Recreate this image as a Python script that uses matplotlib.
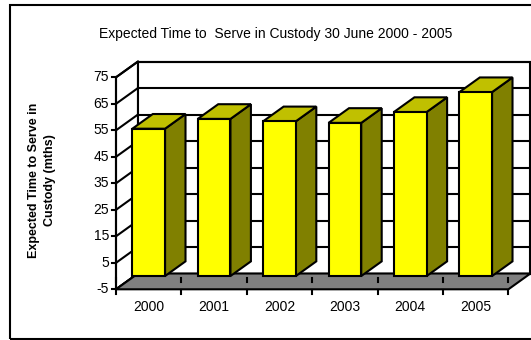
import matplotlib
matplotlib.use("Agg")
import matplotlib.pyplot as plt
from matplotlib.patches import Polygon, Rectangle
from matplotlib.lines import Line2D

plt.rcParams['font.family'] = ['Liberation Sans', 'DejaVu Sans']

# Data
years = ["2000", "2001", "2002", "2003", "2004", "2005"]
custody_months = [55.6, 59.3, 58.4, 57.8, 61.9, 69.4]
y_ticks = [-5, 5, 15, 25, 35, 45, 55, 65, 75]

title = "Expected Time to  Serve in Custody 30 June 2000 - 2005"
y_label = "Expected Time to Serve in\nCustody (mths)"

# Layout (pixels) of the front plane of the 3-D plot box
W, H = 531, 340
X0_PX = 116.0        # left edge of front plane
CAT_PX = 65.4        # width of one category
VMIN, VMAX = -5, 75
VMIN_PY = 289.3      # pixel row of VMIN on front plane
UNIT_PX = 2.65       # pixels per value unit
DEPTH_PX = (22.0, 15.8)  # oblique depth offset (right, up)

DX = DEPTH_PX[0] / CAT_PX
DY = DEPTH_PX[1] / UNIT_PX
BAR_DEPTH = 0.93
BAR_W = 0.5

EDGE = "black"
LW = 1.5
FRONT_C = "#ffff00"
TOP_C = "#c0c000"
SIDE_C = "#808000"
FLOOR_C = "#808080"

fig = plt.figure(figsize=(W / 100, H / 100), dpi=100)
ax = fig.add_axes([0, 0, 1, 1])
ax.set_xlim(-X0_PX / CAT_PX, (W - X0_PX) / CAT_PX)
ax.set_ylim(VMIN - (H - VMIN_PY) / UNIT_PX, VMIN + VMIN_PY / UNIT_PX)
ax.axis("off")

n = len(years)

# Outer chart border
border = Rectangle((10 / W, 1 - 339 / H), 1.2, (339 - 5) / H, transform=ax.transAxes,
                   fill=False, edgecolor=EDGE, linewidth=LW, zorder=0)
ax.add_patch(border)

# Walls
left_wall = Polygon([(0, VMIN), (0, VMAX), (DX, VMAX + DY), (DX, VMIN + DY)],
                    closed=True, facecolor="white", edgecolor=EDGE, linewidth=LW, zorder=1)
back_wall = Polygon([(DX, VMIN + DY), (DX, VMAX + DY), (n + DX, VMAX + DY), (n + DX, VMIN + DY)],
                    closed=True, facecolor="white", edgecolor=EDGE, linewidth=LW, zorder=1)
ax.add_patch(left_wall)
ax.add_patch(back_wall)

# Gridlines on both walls
for v in y_ticks:
    ax.add_line(Line2D([0, DX], [v, v + DY], color=EDGE, linewidth=LW, zorder=2))
    ax.add_line(Line2D([DX, n + DX], [v + DY, v + DY], color=EDGE, linewidth=LW, zorder=2))

# Floor
floor = Polygon([(0, VMIN), (n, VMIN), (n + DX, VMIN + DY), (DX, VMIN + DY)],
                closed=True, facecolor=FLOOR_C, edgecolor=EDGE, linewidth=LW, zorder=3)
ax.add_patch(floor)

# Front value axis line and ticks
ax.add_line(Line2D([0, 0], [VMIN, VMAX], color=EDGE, linewidth=LW, zorder=6))
tick_len = 4.0 / CAT_PX
for v in y_ticks:
    ax.add_line(Line2D([-tick_len, 0], [v, v], color=EDGE, linewidth=LW, zorder=6))
    ax.annotate(str(v), (0, v), xytext=(-5, 0), textcoords="offset points",
                ha="right", va="center", fontsize=10, color="black")

# Category tick marks and labels
for i in range(n + 1):
    ax.add_line(Line2D([i, i], [VMIN - 0.1, VMIN - 1.6], color=EDGE, linewidth=LW, zorder=6))
    ax.add_line(Line2D([i, i], [-0.6, -2.2], color=EDGE, linewidth=LW, zorder=4))
for i, yr in enumerate(years):
    ax.annotate(yr, (i + 0.5, VMIN), xytext=(0, -12.5), textcoords="offset points",
                ha="center", va="center", fontsize=10, color="black")

# 3-D columns
for i, val in enumerate(custody_months):
    x0 = i + 0.5 - BAR_W / 2
    x1 = i + 0.5 + BAR_W / 2
    ddx, ddy = BAR_DEPTH * DX, BAR_DEPTH * DY
    side = Polygon([(x1, 0), (x1, val), (x1 + ddx, val + ddy), (x1 + ddx, ddy)],
                   closed=True, facecolor=SIDE_C, edgecolor=EDGE, linewidth=LW,
                   joinstyle="miter", zorder=5)
    top = Polygon([(x0, val), (x1, val), (x1 + ddx, val + ddy), (x0 + ddx, val + ddy)],
                  closed=True, facecolor=TOP_C, edgecolor=EDGE, linewidth=LW,
                  joinstyle="miter", zorder=5)
    front = Rectangle((x0, 0), BAR_W, val, facecolor=FRONT_C, edgecolor=EDGE,
                      linewidth=LW, joinstyle="miter", zorder=5)
    ax.add_patch(side)
    ax.add_patch(top)
    ax.add_patch(front)

# Title and value-axis label
fig.text(276 / W, 1 - 34 / H, title, ha="center", va="center", fontsize=10)
fig.text(42 / W, 1 - 180 / H, y_label, ha="center", va="center", rotation=90,
         fontsize=9, fontweight="bold", linespacing=1.45, multialignment="center")

fig.savefig("out.png", dpi=100)
